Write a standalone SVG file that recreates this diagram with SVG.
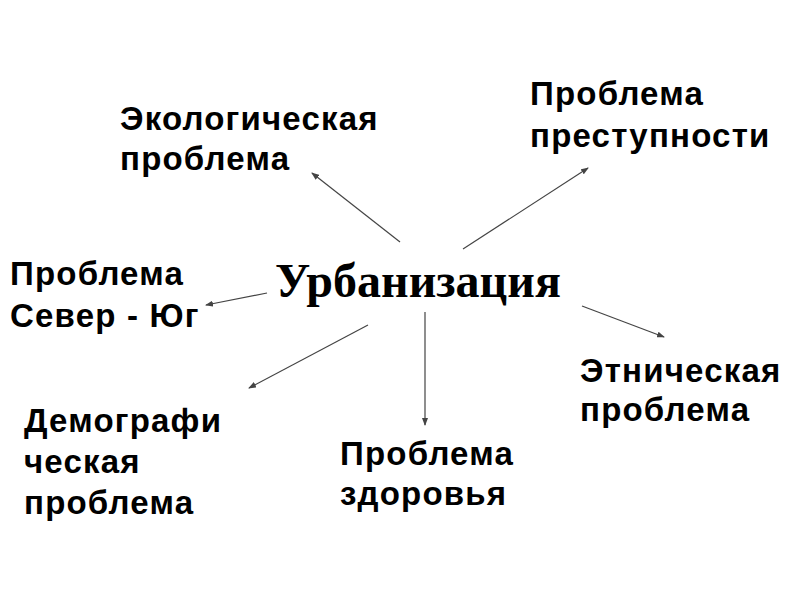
<svg xmlns="http://www.w3.org/2000/svg" width="800" height="600" viewBox="0 0 800 600">
<style>
.lbl{font-family:"Liberation Sans",Arial,sans-serif;font-weight:bold;font-size:33px;letter-spacing:1.2px;fill:#000}
.main{font-family:"Liberation Serif","Times New Roman",serif;font-weight:bold;font-size:48px;fill:#000}
.conn line{stroke:#444;stroke-width:1.2;marker-end:url(#ah)}
</style>
<defs>
<marker id="ah" markerUnits="userSpaceOnUse" markerWidth="8" markerHeight="6" refX="7" refY="3" orient="auto">
<path d="M0,0 L8,3 L0,6 Z" fill="#444"/>
</marker>
</defs>
<rect width="800" height="600" fill="#fff"/>
<g id="center"><text class="main" x="275" y="297">Урбанизация</text></g>
<g id="eco"><text class="lbl" x="120" y="130">Экологическая</text><text class="lbl" x="120" y="170">проблема</text></g>
<g id="crime"><text class="lbl" x="530" y="105">Проблема</text><text class="lbl" x="530" y="147">преступности</text></g>
<g id="northsouth"><text class="lbl" x="10" y="285">Проблема</text><text class="lbl" x="10" y="327">Север - Юг</text></g>
<g id="demo"><text class="lbl" x="24" y="432">Демографи</text><text class="lbl" x="24" y="473">ческая</text><text class="lbl" x="24" y="514">проблема</text></g>
<g id="health"><text class="lbl" x="340" y="465">Проблема</text><text class="lbl" x="340" y="505">здоровья</text></g>
<g id="ethnic"><text class="lbl" x="580" y="382">Этническая</text><text class="lbl" x="580" y="421">проблема</text></g>
<g id="connectors" class="conn">
<line x1="400" y1="242" x2="312" y2="173"/>
<line x1="463" y1="249" x2="588" y2="168"/>
<line x1="267" y1="293" x2="206" y2="305"/>
<line x1="368" y1="325" x2="249" y2="388"/>
<line x1="425" y1="312" x2="425" y2="425"/>
<line x1="582" y1="306" x2="664" y2="337"/>
</g>
</svg>
